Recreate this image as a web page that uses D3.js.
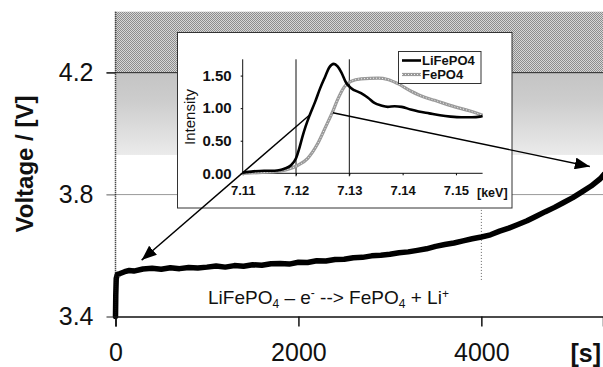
<!DOCTYPE html>
<html><head><meta charset="utf-8">
<script src="https://cdn.jsdelivr.net/npm/d3@7"></script>
<style>
html,body{margin:0;padding:0;background:#fff;}
svg{display:block;font-family:"Liberation Sans",Arial,Helvetica,sans-serif;}
</style></head><body>
<svg id="chart" width="603" height="367"></svg>
<script>
// Charge curve of the LiFePO4 cell: time [s] and voltage [V]
const timeSec = [0, 3, 8, 20, 50, 100, 150, 200, 300, 400, 500, 600, 700, 800, 900, 1000,
  1100, 1200, 1300, 1400, 1500, 1600, 1700, 1800, 1900, 2000, 2100, 2200, 2300, 2400, 2500,
  2600, 2700, 2800, 2900, 3000, 3100, 3200, 3300, 3400, 3500, 3600, 3700, 3800, 3900, 4000,
  4100, 4200, 4300, 4400, 4500, 4600, 4700, 4800, 4900, 5000, 5100, 5200, 5300, 5340];
const voltage = [3.400, 3.470, 3.525, 3.538, 3.541, 3.547, 3.551, 3.549, 3.556, 3.558, 3.555,
  3.560, 3.557, 3.561, 3.559, 3.562, 3.566, 3.562, 3.567, 3.565, 3.570, 3.568, 3.573, 3.574,
  3.572, 3.578, 3.577, 3.583, 3.582, 3.587, 3.588, 3.593, 3.594, 3.599, 3.601, 3.604, 3.609,
  3.612, 3.617, 3.622, 3.630, 3.636, 3.641, 3.648, 3.655, 3.661, 3.668, 3.680, 3.690, 3.702,
  3.714, 3.729, 3.744, 3.758, 3.774, 3.790, 3.809, 3.828, 3.852, 3.866];
const voltTicks = [3.4, 3.8, 4.2];
const timeTicks = [0, 2000, 4000];
const shadeTop = [4.2, 4.4];     // solid dithered band
const shadeFade = [3.93, 4.2];   // fading band below it
const markTime = 4000;

// Fe K-edge XANES spectra (inset)
const lfpEnergy = [7.1100, 7.1120, 7.1140, 7.1160, 7.1170, 7.1178, 7.1190, 7.1200, 7.1206, 7.1212,
  7.1218, 7.1226, 7.1236, 7.1245, 7.1255, 7.1262, 7.1271, 7.1278, 7.1285, 7.1294, 7.1303, 7.1322,
  7.1335, 7.1347, 7.1360, 7.1372, 7.1385, 7.1398, 7.1415, 7.1430, 7.1450, 7.1470, 7.1490, 7.1510,
  7.1530, 7.1545, 7.1550];
const lfpIntensity = [0.01, 0.03, 0.04, 0.04, 0.05, 0.07, 0.12, 0.23, 0.38, 0.56, 0.72, 0.90, 1.10,
  1.30, 1.49, 1.62, 1.68, 1.64, 1.55, 1.39, 1.31, 1.23, 1.16, 1.08, 1.04, 1.02, 1.03, 1.02, 0.98,
  0.95, 0.92, 0.89, 0.87, 0.86, 0.86, 0.87, 0.88];
const fpEnergy = [7.1100, 7.1130, 7.1153, 7.1184, 7.1203, 7.1222, 7.1241, 7.1256, 7.1269, 7.1278,
  7.1291, 7.1303, 7.1322, 7.1354, 7.1372, 7.1390, 7.1416, 7.1440, 7.1460, 7.1498, 7.1525, 7.1550];
const fpIntensity = [0.00, 0.01, 0.02, 0.06, 0.12, 0.23, 0.46, 0.72, 0.95, 1.13, 1.33, 1.41, 1.45,
  1.46, 1.44, 1.38, 1.26, 1.17, 1.12, 1.02, 0.96, 0.89];
const energyTicks = [7.11, 7.12, 7.13, 7.14, 7.15];
const energyGrid = [7.12, 7.13];
const intensityTicks = [0, 0.5, 1.0, 1.5];
const seriesNames = ["LiFePO4", "FePO4"];

const svg = d3.select("#chart");
const defs = svg.append("defs");

// main scales
const x = d3.scaleLinear().domain([0, 5330]).range([115.5, 603]);
const y = d3.scaleLinear().domain([3.4, 4.4]).range([316.5, 11.7]);

// dither pattern + fading gradient for the shaded upper region
const pat = defs.append("pattern").attr("id", "dither").attr("width", 2).attr("height", 2)
  .attr("patternUnits", "userSpaceOnUse");
pat.append("rect").attr("width", 2).attr("height", 2).attr("fill", "#d6d6d6");
pat.append("rect").attr("width", 1).attr("height", 1).attr("fill", "#8c8c8c");
pat.append("rect").attr("x", 1).attr("y", 1).attr("width", 1).attr("height", 1).attr("fill", "#8c8c8c");

const grad = defs.append("linearGradient").attr("id", "fade")
  .attr("gradientUnits", "userSpaceOnUse")
  .attr("x1", 0).attr("x2", 0).attr("y1", y(shadeFade[1])).attr("y2", y(shadeFade[0]));
grad.append("stop").attr("offset", 0).attr("stop-color", "#c4c4c4");
grad.append("stop").attr("offset", 0.35).attr("stop-color", "#cdcdcd");
grad.append("stop").attr("offset", 1).attr("stop-color", "#ebebeb");

svg.append("rect").attr("x", x(0)).attr("width", x.range()[1] - x(0))
  .attr("y", y(shadeTop[1])).attr("height", y(shadeTop[0]) - y(shadeTop[1]))
  .attr("fill", "url(#dither)");
svg.append("rect").attr("x", x(0)).attr("width", x.range()[1] - x(0))
  .attr("y", y(shadeFade[1])).attr("height", y(shadeFade[0]) - y(shadeFade[1]))
  .attr("fill", "url(#fade)");

// horizontal gridlines
svg.selectAll(".hgrid").data(voltTicks.slice(1)).join("line")
  .attr("x1", x(0) - 9).attr("x2", x.range()[1])
  .attr("y1", d => y(d)).attr("y2", d => y(d))
  .attr("stroke", d => d > 4 ? "#222" : "#9a9a9a").attr("stroke-width", 1);

// marker line at t = 4000 s
svg.append("line").attr("x1", x(markTime)).attr("x2", x(markTime))
  .attr("y1", y(3.52)).attr("y2", y(3.83))
  .attr("stroke", "#666").attr("stroke-width", 1).attr("stroke-dasharray", "1,2");

// voltage curve
const vLine = d3.line().x((d, i) => x(timeSec[i])).y(d => y(d));
svg.append("path").attr("d", vLine(voltage)).attr("fill", "none")
  .attr("stroke", "#000").attr("stroke-width", 5.5)
  .attr("stroke-linejoin", "round").attr("stroke-linecap", "round");

// y axis
const yAxis = svg.append("g").attr("transform", `translate(${x(0)},0)`)
  .call(d3.axisLeft(y).tickValues(voltTicks).tickFormat(d3.format(".1f")).tickSize(9).tickPadding(13));
yAxis.select(".domain").remove();
yAxis.selectAll(".tick line").attr("stroke", d => d === 3.8 ? "#9a9a9a" : "#222");
yAxis.selectAll("text").attr("font-size", 25).attr("fill", "#111").attr("font-family", null);
svg.append("line").attr("x1", x(0)).attr("x2", x(0)).attr("y1", y(4.4)).attr("y2", y(3.4))
  .attr("stroke", "#111").attr("stroke-width", 1.5).attr("stroke-dasharray", "1,1");

// x axis
const xAxis = svg.append("g").attr("transform", `translate(0,${y(3.4)})`)
  .call(d3.axisBottom(x).tickValues(timeTicks).tickFormat(d3.format("d")).tickSize(10).tickPadding(17));
xAxis.select(".domain").attr("stroke", "#111").attr("stroke-width", 1.5);
xAxis.selectAll(".tick line").attr("stroke", "#111").attr("stroke-width", 1.5);
xAxis.selectAll("text").attr("font-size", 25).attr("fill", "#111").attr("font-family", null);

svg.append("text").attr("x", 601).attr("y", 362).attr("text-anchor", "end")
  .attr("font-size", 25).attr("font-weight", "bold").attr("fill", "#111").text("[s]");
svg.append("text").attr("transform", "translate(33,164) rotate(-90)").attr("text-anchor", "middle")
  .attr("font-size", 24).attr("font-weight", "bold").attr("fill", "#111").text("Voltage / [V]");

// ---- inset: XANES spectra ----
const inset = svg.append("g");
inset.append("rect").attr("x", 177.5).attr("y", 32.5).attr("width", 334.5).attr("height", 175.5)
  .attr("fill", "#fff").attr("stroke", "#333").attr("stroke-width", 1);

const ex = d3.scaleLinear().domain([7.11, 7.155]).range([242.7, 482.6]);
const ey = d3.scaleLinear().domain([0, 1.75]).range([173.3, 59.3]);

inset.selectAll(".vgrid").data(energyGrid).join("line")
  .attr("x1", d => ex(d)).attr("x2", d => ex(d)).attr("y1", ey(1.75)).attr("y2", ey(0) + 3)
  .attr("stroke", "#111").attr("stroke-width", 1);

const iy = inset.append("g").attr("transform", `translate(${ex(7.11)},0)`)
  .call(d3.axisLeft(ey).tickValues(intensityTicks).tickFormat(d3.format(".2f")).tickSize(2).tickPadding(9));
iy.select(".domain").attr("d", `M0,${ey(1.75)}V${ey(0)}`).attr("stroke", "#111");
iy.selectAll("text").attr("font-size", 15).attr("font-weight", "bold").attr("fill", "#111").attr("font-family", null);

const ix = inset.append("g").attr("transform", `translate(0,${ey(0)})`)
  .call(d3.axisBottom(ex).tickValues(energyTicks).tickFormat(d3.format(".2f")).tickSize(2).tickPadding(10));
ix.select(".domain").attr("d", `M${ex(7.11)},0H${ex(7.155)}`).attr("stroke", "#111");
ix.selectAll("text").attr("font-size", 13).attr("font-weight", "bold").attr("fill", "#111").attr("font-family", null);

inset.append("text").attr("x", 477).attr("y", 197).attr("font-size", 12.5).attr("font-weight", "bold")
  .attr("fill", "#111").text("[keV]");
inset.append("text").attr("transform", "translate(195,117) rotate(-90)").attr("text-anchor", "middle")
  .attr("font-size", 15).attr("fill", "#111").text("Intensity");

const fpLine = d3.line().x((d, i) => ex(fpEnergy[i])).y(d => ey(d)).curve(d3.curveMonotoneX);
const lfpLine = d3.line().x((d, i) => ex(lfpEnergy[i])).y(d => ey(d)).curve(d3.curveMonotoneX);

inset.append("path").attr("d", fpLine(fpIntensity)).attr("fill", "none")
  .attr("stroke", "#9a9a9a").attr("stroke-width", 3.2);
inset.append("path").attr("d", fpLine(fpIntensity)).attr("fill", "none")
  .attr("stroke", "#f4f4f4").attr("stroke-width", 1).attr("stroke-dasharray", "1,2");
inset.append("path").attr("d", lfpLine(lfpIntensity)).attr("fill", "none")
  .attr("stroke", "#000").attr("stroke-width", 2.6).attr("stroke-linejoin", "round");

// legend
const leg = inset.append("g");
leg.append("rect").attr("x", 398.5).attr("y", 51.5).attr("width", 82.5).attr("height", 32)
  .attr("fill", "#fff").attr("stroke", "#333");
seriesNames.forEach((name, i) => {
  const ly = 60.5 + i * 14;
  if (i === 0) {
    leg.append("line").attr("x1", 402).attr("x2", 421).attr("y1", ly).attr("y2", ly)
      .attr("stroke", "#000").attr("stroke-width", 2.6);
  } else {
    leg.append("line").attr("x1", 402).attr("x2", 421).attr("y1", ly).attr("y2", ly)
      .attr("stroke", "#9a9a9a").attr("stroke-width", 3.2);
    leg.append("line").attr("x1", 402).attr("x2", 421).attr("y1", ly).attr("y2", ly)
      .attr("stroke", "#f4f4f4").attr("stroke-width", 1).attr("stroke-dasharray", "1,2");
  }
  leg.append("text").attr("x", 422).attr("y", ly + 4.5).attr("font-size", 13).attr("font-weight", "bold")
    .attr("fill", "#111").text(name);
});

// arrows linking the spectra to the charge curve
defs.append("marker").attr("id", "head").attr("markerUnits", "userSpaceOnUse")
  .attr("markerWidth", 15).attr("markerHeight", 12).attr("refX", 15).attr("refY", 6)
  .attr("orient", "auto")
  .append("path").attr("d", "M0,0L15,6L0,12Z").attr("fill", "#000");

const arrows = [
  { from: [ex(7.1226), ey(0.90)], to: [x(286), y(3.585)] },
  { from: [ex(7.1269), ey(0.93)], to: [x(5186), y(3.892)] }
];
svg.selectAll(".arrow").data(arrows).join("line")
  .attr("x1", d => d.from[0]).attr("y1", d => d.from[1])
  .attr("x2", d => d.to[0]).attr("y2", d => d.to[1])
  .attr("stroke", "#000").attr("stroke-width", 1.4).attr("marker-end", "url(#head)");

// reaction equation
const eq = svg.append("text").attr("x", 208).attr("y", 303.5).attr("font-size", 19).attr("fill", "#111");
eq.append("tspan").text("LiFePO");
eq.append("tspan").attr("dy", 4).attr("font-size", 12).text("4");
eq.append("tspan").attr("dy", -4).text(" – e");
eq.append("tspan").attr("dy", -7).attr("font-size", 12).text("-");
eq.append("tspan").attr("dy", 7).text("  --> FePO");
eq.append("tspan").attr("dy", 4).attr("font-size", 12).text("4");
eq.append("tspan").attr("dy", -4).text(" + Li");
eq.append("tspan").attr("dy", -6).attr("font-size", 12).text("+");
</script>
</body></html>
